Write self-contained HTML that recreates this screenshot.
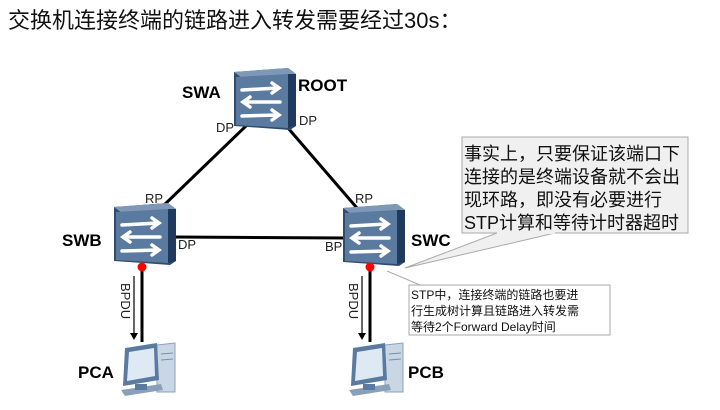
<!DOCTYPE html>
<html><head><meta charset="utf-8"><style>
body{margin:0;background:#fff;width:720px;height:410px;overflow:hidden}
svg{display:block}
text{font-family:"Liberation Sans","Noto Sans CJK SC",sans-serif}
</style></head><body>
<svg width="720" height="410" viewBox="0 0 720 410">
<defs>
<g id="sw">
 <polygon points="0,4 54,0 62,6 62,58 56,62 0,58" fill="#2f4d70"/>
 <polygon points="0,4 54,0 62,6 8,10" fill="#7f98b8"/>
 <polygon points="2,9 54,6 54,60 2,57" fill="#5a7aa0"/>
 <polygon points="54,6 62,6 62,58 54,60" fill="#1f3a5c"/>
 <g stroke="#fff" stroke-width="3.5" fill="none" stroke-linecap="round">
  <path d="M8,22 L44,20 M38,15 L45,20 L38,25"/>
  <path d="M46,34 L10,34 M16,29 L9,34 L16,39"/>
  <path d="M8,48 L44,47 M38,42 L45,47 L38,52"/>
 </g>
</g>
<g id="pc">
 <polygon points="40,5 58,3 58,52 40,52" fill="#c9d6e4" stroke="#8aa0b8"/>
 <line x1="44" y1="14" x2="56" y2="13" stroke="#7890a8"/>
 <line x1="44" y1="20" x2="56" y2="19" stroke="#7890a8"/>
 <polygon points="8,8 40,3 42,40 6,46" fill="#5a7aa0"/>
 <polygon points="12,12 37,8 38,36 10,41" fill="#dfe9f4"/>
 <polygon points="4,50 44,44 46,50 8,56" fill="#8aa0b8"/>
 <rect x="18" y="44" width="12" height="6" fill="#5a7aa0"/>
</g>
</defs>
<text x="8" y="28" font-size="22" fill="#111">交换机连接终端的链路进入转发需要经过30s：</text>

<g stroke="#000" stroke-width="3">
 <line x1="247" y1="125" x2="162" y2="207"/>
 <line x1="288" y1="128" x2="357" y2="208"/>
 <line x1="176" y1="237" x2="345" y2="238"/>
 <line x1="142" y1="267" x2="142" y2="342"/>
 <line x1="370" y1="267" x2="370" y2="342"/>
</g>
<g stroke="#000" stroke-width="1.2">
 <line x1="134" y1="276" x2="134" y2="334"/>
 <line x1="362" y1="276" x2="362" y2="334"/>
</g>
<polygon points="130,333 138,333 134,340" fill="#000"/>
<polygon points="358,333 366,333 362,340" fill="#000"/>

<use href="#sw" x="234" y="68"/>
<use href="#sw" x="114" y="203"/>
<use href="#sw" x="343" y="204"/>

<circle cx="142" cy="267" r="4.5" fill="#f00"/>
<circle cx="370" cy="267" r="4.5" fill="#f00"/>

<use href="#pc" x="117" y="340"/>
<use href="#pc" x="345" y="340"/>

<g font-weight="bold" font-size="17" fill="#000">
 <text x="182" y="98">SWA</text>
 <text x="298" y="91">ROOT</text>
 <text x="62" y="246">SWB</text>
 <text x="411" y="246">SWC</text>
 <text x="78" y="378">PCA</text>
 <text x="408" y="378">PCB</text>
</g>
<g font-size="13" fill="#222">
 <text x="216" y="132">DP</text>
 <text x="299" y="125">DP</text>
 <text x="145" y="203">RP</text>
 <text x="178" y="249">DP</text>
 <text x="355" y="203">RP</text>
 <text x="325" y="251">BP</text>
</g>
<text x="0" y="0" font-size="13" fill="#222" transform="translate(121,283) rotate(90)">BPDU</text>
<text x="0" y="0" font-size="13" fill="#222" transform="translate(349,283) rotate(90)">BPDU</text>

<polygon points="405,268 497,233 555,233" fill="#f0f0f0" stroke="#aaa"/>
<rect x="462" y="137" width="226" height="96" fill="#f0f0f0" stroke="#aaa"/>
<line x1="497" y1="233" x2="555" y2="233" stroke="#f0f0f0" stroke-width="2"/>
<g font-size="18" fill="#111">
 <text x="464" y="160">事实上，只要保证该端口下</text>
 <text x="464" y="183">连接的是终端设备就不会出</text>
 <text x="464" y="206">现环路，即没有必要进行</text>
 <text x="464" y="229">STP计算和等待计时器超时</text>
</g>
<polyline points="387,271 420,285 470,285" fill="none" stroke="#aaa"/>
<rect x="409" y="285" width="201" height="50" fill="#fff" stroke="#aaa"/>
<g font-size="12" fill="#111">
 <text x="411" y="299">STP中，连接终端的链路也要进</text>
 <text x="411" y="315">行生成树计算且链路进入转发需</text>
 <text x="411" y="331">等待2个Forward Delay时间</text>
</g>
</svg>
</body></html>
